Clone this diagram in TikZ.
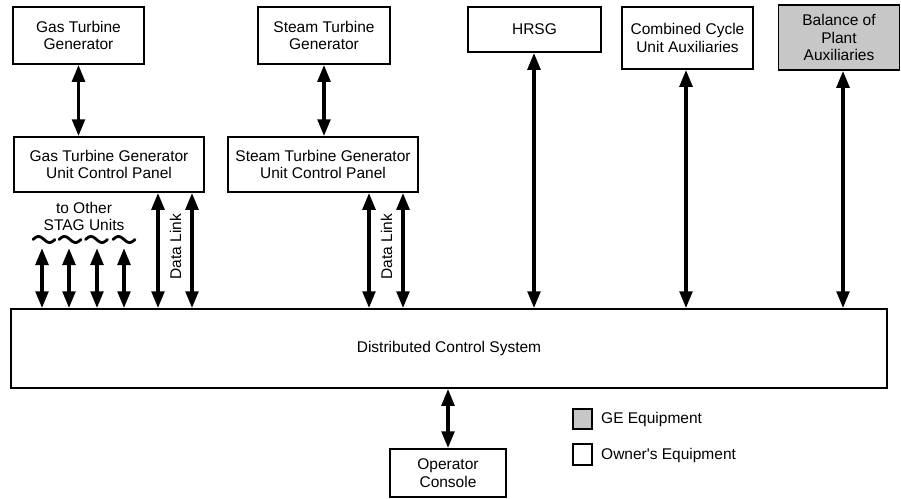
\documentclass[tikz,border=0pt]{standalone}
\usepackage{fontspec}
\setmainfont{Liberation Sans}[Ligatures=TeXOff]
\usetikzlibrary{arrows.meta}
\begin{document}
\begin{tikzpicture}[x=1pt,y=-1pt,
  box/.style={draw,line width=1.5pt,inner sep=0pt,align=center,font=\fontsize{15.5}{17.5}\selectfont},
  gebox/.style={box,fill=black!22},
  lbl/.style={inner sep=0pt,align=center,font=\fontsize{15.5}{17.5}\selectfont},
  dbl/.style={line width=3.8pt,{Triangle[length=17pt,width=12.5pt]}-{Triangle[length=17pt,width=12.5pt]}},
  wave/.style={line width=2.8pt,line cap=round}]
\useasboundingbox (0,0) rectangle (901,498);
% boxes
\node[box,minimum width=131pt,minimum height=57pt] (gtg) at (78.5,35.5) {Gas Turbine\\Generator};
\node[box,minimum width=190pt,minimum height=55pt] (gucp) at (109,164.5) {Gas Turbine Generator\\Unit Control Panel};
\node[box,minimum width=132pt,minimum height=57pt] (stg) at (324,35.5) {Steam Turbine\\Generator};
\node[box,minimum width=190pt,minimum height=55pt] (sucp) at (323,164.5) {Steam Turbine Generator\\Unit Control Panel};
\node[box,minimum width=133pt,minimum height=45pt] (hrsg) at (534.5,29.5) {HRSG};
\node[box,minimum width=131pt,minimum height=62pt] (ccua) at (687.5,38) {Combined Cycle\\Unit Auxiliaries};
\node[gebox,minimum width=121pt,minimum height=65pt] (bop) at (839,37.5) {Balance of\\Plant\\Auxiliaries};
\node[box,minimum width=876pt,minimum height=79pt] (dcs) at (449,348.5) {Distributed Control System};
\node[box,minimum width=116pt,minimum height=48pt] (op) at (448,473) {Operator\\Console};
% legend
\node[gebox,minimum width=19pt,minimum height=20pt] (lge) at (582.5,419) {};
\node[box,minimum width=19pt,minimum height=21pt] (lown) at (582.5,454.5) {};
\node[lbl,anchor=west] (tge) at (601,419) {GE Equipment};
\node[lbl,anchor=west] (town) at (601,455) {Owner's Equipment};
% labels
\node[lbl] (other) at (84,216.5) {to Other\\STAG Units};
\node[lbl,rotate=90] (dl1) at (175.5,246.5) {Data Link};
\node[lbl,rotate=90] (dl2) at (386.5,246.5) {Data Link};
% x positions
\coordinate (a1) at (42,248);
\coordinate (a2) at (69,248);
\coordinate (a3) at (97,248);
\coordinate (a4) at (124,248);
\coordinate (g1) at (158,0);
\coordinate (g2) at (192,0);
\coordinate (s1) at (369,0);
\coordinate (s2) at (403,0);
\coordinate (hx) at (534,0);
\coordinate (cx) at (686,0);
\coordinate (bx) at (843,0);
% connectors
\draw[dbl] (gtg.south) -- (gtg.south |- gucp.north);
\draw[dbl] (stg.south) -- (stg.south |- sucp.north);
\foreach \c in {a1,a2,a3,a4}{\draw[dbl] (\c) -- (\c |- dcs.north);}
\foreach \c in {g1,g2}{\draw[dbl] (\c |- gucp.south) -- (\c |- dcs.north);}
\foreach \c in {s1,s2}{\draw[dbl] (\c |- sucp.south) -- (\c |- dcs.north);}
\draw[dbl] (hx |- hrsg.south) -- (hx |- dcs.north);
\draw[dbl] (cx |- ccua.south) -- (cx |- dcs.north);
\draw[dbl] (bx |- bop.south) -- (bx |- dcs.north);
\draw[dbl] (op.north) -- (op.north |- dcs.south);
% waves
\foreach \xc in {44,70,96.5,124}{
  \draw[wave] plot[domain=-11:11,samples=30,smooth] ({\xc+\x},{239.5-3*sin((\x+11)*360/22)});
}
\end{tikzpicture}
\end{document}
